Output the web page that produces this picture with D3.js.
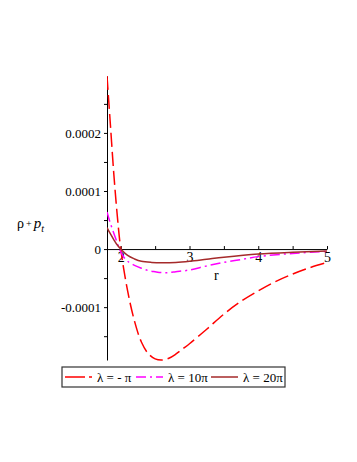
<!DOCTYPE html>
<html>
<head>
<meta charset="utf-8">
<script src="https://cdn.jsdelivr.net/npm/d3@7"></script>
<style>
  body { margin: 0; background: #fff; }
  text { font-family: "Liberation Serif", "Times New Roman", serif; }
</style>
</head>
<body>
<svg id="chart" width="357" height="462"></svg>
<script>
// r values and curves
const rRed = [1.8, 1.85, 1.9, 1.95, 2.0, 2.1, 2.2, 2.3, 2.4, 2.5, 2.6, 2.7, 2.8, 2.9, 3.0, 3.25, 3.5, 3.75, 4.0, 4.25, 4.5, 4.75, 5.0];
const valRed = [0.000298, 0.000213, 0.000128, 0.000057, 0.0, -0.000072, -0.000124, -0.000160, -0.000180, -0.000189, -0.000191, -0.000188, -0.000181, -0.000172, -0.000163, -0.000138, -0.000112, -0.000090, -0.000072, -0.000056, -0.000043, -0.000032, -0.000023];

const rMag = [1.8, 1.85, 1.9, 1.95, 1.98, 2.05, 2.1, 2.2, 2.3, 2.4, 2.5, 2.6, 2.7, 2.8, 3.0, 3.25, 3.5, 3.75, 4.0, 4.5, 5.0];
const valMag = [0.000064, 0.000044, 0.000027, 0.000010, 0.0, -0.000015, -0.000021, -0.000028, -0.000033, -0.000037, -0.000039, -0.0000405, -0.0000405, -0.000039, -0.000036, -0.000029, -0.000023, -0.000018, -0.000013, -0.0000075, -0.000004];

const rBrn = [1.8, 1.85, 1.9, 1.95, 2.0, 2.1, 2.2, 2.3, 2.45, 2.6, 2.8, 3.0, 3.25, 3.5, 4.0, 4.5, 5.0];
const valBrn = [0.000037, 0.000026, 0.000016, 0.000007, 0.0, -0.000011, -0.000017, -0.000021, -0.000023, -0.0000236, -0.000023, -0.000021, -0.0000175, -0.000014, -0.0000085, -0.0000055, -0.0000035];

const seriesNames = ["λ = - π", "λ = 10π", "λ = 20π"];

const yMajor = [0.0002, 0.0001, 0, -0.0001];
const yMajorLabels = ["0.0002", "0.0001", "0", "-0.0001"];
const yMinor = [0.00025, 0.00015, 0.00005, -0.00005, -0.00015];
const xMajor = [2, 3, 4, 5];
const xMinor = [2.5, 3.5, 4.5];

const svg = d3.select("#chart");

const series = [
  { name: seriesNames[0], r: rRed, v: valRed, color: "#ff0000", dash: "14,5" },
  { name: seriesNames[1], r: rMag, v: valMag, color: "#ff00ff", dash: "10,4,2,4" },
  { name: seriesNames[2], r: rBrn, v: valBrn, color: "#a52a2a", dash: null }
];

const x = d3.scaleLinear().domain([1.8, 5]).range([107, 327]);
const allVals = valRed.concat(valMag, valBrn);
const y = d3.scaleLinear().domain(d3.extent(allVals)).range([360, 76]);

// clip
svg.append("clipPath").attr("id", "clip")
  .append("rect").attr("x", 107).attr("y", 75).attr("width", 221).attr("height", 287);

// y axis
const yAx = svg.append("g")
  .attr("transform", `translate(${x(1.8)},0)`)
  .call(d3.axisLeft(y).tickValues(yMajor)
    .tickFormat((d, i) => yMajorLabels[i]).tickSize(3).tickSizeOuter(0).tickPadding(3));
yAx.selectAll("text").attr("font-size", 13).attr("font-family", "Liberation Serif, serif").attr("fill", "#000");

svg.append("g")
  .attr("transform", `translate(${x(1.8)},0)`)
  .call(d3.axisLeft(y).tickValues(yMinor).tickFormat("").tickSize(3).tickSizeOuter(0))
  .select(".domain").remove();

// x axis
const xAx = svg.append("g")
  .attr("transform", `translate(0,${y(0)})`)
  .call(d3.axisBottom(x).tickValues(xMajor).tickFormat(d3.format("d"))
    .tickSizeInner(-3).tickSizeOuter(0).tickPadding(3));
xAx.selectAll("text").attr("font-size", 14).attr("font-family", "Liberation Serif, serif").attr("fill", "#000");

svg.append("g")
  .attr("transform", `translate(0,${y(0)})`)
  .call(d3.axisBottom(x).tickValues(xMinor).tickFormat("").tickSizeInner(-3).tickSizeOuter(0))
  .select(".domain").remove();

// axis labels
svg.append("text").attr("x", 214).attr("y", 280).attr("font-size", 14).text("r");

const yl = svg.append("text").attr("x", 17).attr("y", 228).attr("font-size", 14)
  .attr("font-family", "DejaVu Sans, sans-serif");
yl.append("tspan").text("ρ");
yl.append("tspan").attr("font-size", 10).attr("dx", 2).attr("dy", -1).text("+");
yl.append("tspan").attr("font-style", "italic").attr("font-family", "Liberation Serif, serif")
  .attr("font-size", 15).attr("dx", 2).attr("dy", 1).text("p");
yl.append("tspan").attr("font-style", "italic").attr("font-family", "Liberation Serif, serif")
  .attr("font-size", 10).attr("dy", 4).text("t");

// curves
const line = d3.line()
  .x(d => x(d[0]))
  .y(d => y(d[1]))
  .curve(d3.curveCatmullRom.alpha(0.5));

series.forEach(s => {
  svg.append("path")
    .datum(s.r.map((r, i) => [r, s.v[i]]))
    .attr("clip-path", "url(#clip)")
    .attr("fill", "none")
    .attr("stroke", s.color)
    .attr("stroke-width", 1.5)
    .attr("stroke-dasharray", s.dash)
    .attr("d", line);
});

// legend
const legend = svg.append("g");
legend.append("rect").attr("x", 62).attr("y", 367).attr("width", 223).attr("height", 20)
  .attr("fill", "#fff").attr("stroke", "#333").attr("stroke-width", 1.2);
const legX = [65, 136, 211];
const legDash = ["20,4,3,4", "10,4,2,4", null];
series.forEach((s, i) => {
  legend.append("line")
    .attr("x1", legX[i]).attr("x2", legX[i] + 27)
    .attr("y1", 377).attr("y2", 377)
    .attr("stroke", s.color).attr("stroke-width", 1.5)
    .attr("stroke-dasharray", legDash[i]);
  legend.append("text")
    .attr("x", legX[i] + 32).attr("y", 382)
    .attr("font-size", 13)
    .text(s.name);
});
</script>
</body>
</html>
